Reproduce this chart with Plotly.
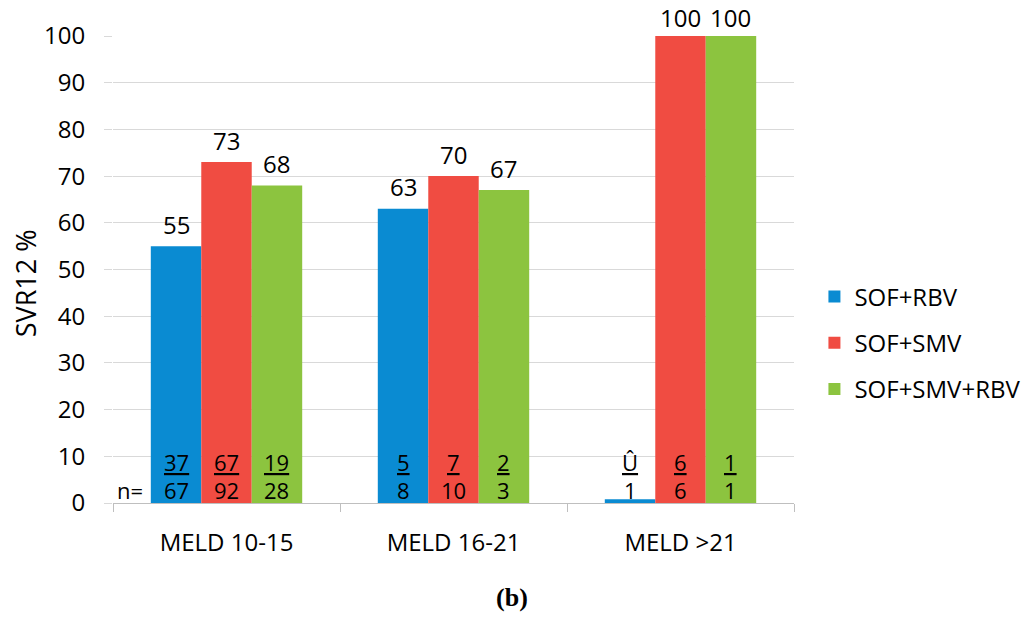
import plotly.graph_objects as go

categories = ["MELD 10-15", "MELD 16-21", "MELD >21"]
series_names = ["SOF+RBV", "SOF+SMV", "SOF+SMV+RBV"]
sof_rbv = [55, 63, 0.8]
sof_smv = [73, 70, 100]
sof_smv_rbv = [68, 67, 100]
value_labels = [["55", "63", ""], ["73", "70", "100"], ["68", "67", "100"]]
responders = [["37", "5", "Û"], ["67", "7", "6"], ["19", "2", "1"]]
totals = [["67", "8", "1"], ["92", "10", "6"], ["28", "3", "1"]]
y_ticks = [0, 10, 20, 30, 40, 50, 60, 70, 80, 90, 100]

colors = ["#0a8bd2", "#f04c42", "#8cc43f"]
values = [sof_rbv, sof_smv, sof_smv_rbv]
FONT = "Open Sans"
FS = 24

fig = go.Figure()
for name, vals, col in zip(series_names, values, colors):
    fig.add_trace(go.Bar(
        x=categories, y=vals, name=name,
        marker=dict(color=col, line=dict(width=0)),
        legendgroup=name,
    ))

annotations = []
bar_w = (1 - 0.333) / 3
for j in range(3):
    for i in range(3):
        xi = i + (j - 1) * bar_w
        if value_labels[j][i]:
            v = values[j][i]
            annotations.append(dict(
                x=xi, y=v, xref="x", yref="y", text=value_labels[j][i],
                showarrow=False, yanchor="middle",
                yshift=22 if v < 100 else 19,
                font=dict(family=FONT, size=FS, color="black")))
        annotations.append(dict(
            x=xi, y=8.8, xref="x", yref="y", text="<u>" + responders[j][i] + "</u>",
            showarrow=False, yanchor="middle",
            font=dict(family=FONT, size=22, color="black")))
        annotations.append(dict(
            x=xi, y=2.8, xref="x", yref="y", text=totals[j][i],
            showarrow=False, yanchor="middle",
            font=dict(family=FONT, size=22, color="black")))
annotations.append(dict(
    x=-0.425, y=2.8, xref="x", yref="y", text="n=",
    showarrow=False, yanchor="middle",
    font=dict(family=FONT, size=22, color="black")))
annotations.append(dict(
    x=-0.129, y=0.471, xref="paper", yref="paper", text="SVR12 %",
    textangle=-90, showarrow=False, xanchor="center", yanchor="middle",
    font=dict(family=FONT, size=27, color="black")))

fig.update_layout(
    width=1024, height=621,
    margin=dict(l=113, r=230, t=36, b=118, autoexpand=False),
    paper_bgcolor="white", plot_bgcolor="white",
    barmode="group", bargap=0.333, bargroupgap=0,
    font=dict(family=FONT, size=FS, color="black"),
    annotations=annotations,
    title=dict(text="<b>(b)</b>", x=0.5, xref="container", xanchor="center",
               y=0.039, yref="container", yanchor="middle",
               font=dict(family="Liberation Serif", size=26, color="black")),
    legend=dict(x=1.03, xanchor="left", y=0.3426, yanchor="middle",
                traceorder="grouped", tracegroupgap=12,
                font=dict(family=FONT, size=FS, color="black"),
                bgcolor="rgba(0,0,0,0)"),
    xaxis=dict(type="category", showgrid=False, showline=True,
               linecolor="#bfbfbf", linewidth=1,
               ticks="outside", tickson="boundaries", ticklen=8,
               tickcolor="#bfbfbf", ticklabelstandoff=18,
               tickfont=dict(family=FONT, size=FS, color="black"),
               range=[-0.5, 2.5]),
    yaxis=dict(range=[0, 100], tickvals=y_ticks, showgrid=True,
               gridcolor="#d9d9d9", gridwidth=1, zeroline=False,
               showline=False, ticks="outside", ticklen=8,
               tickcolor="#d9d9d9", ticklabelstandoff=14,
               tickfont=dict(family=FONT, size=FS, color="black")),
)
fig.update_traces(cliponaxis=False)
fig.write_html("out.html", config={"displayModeBar": False},
               post_script="document.body.style.margin='0';")
